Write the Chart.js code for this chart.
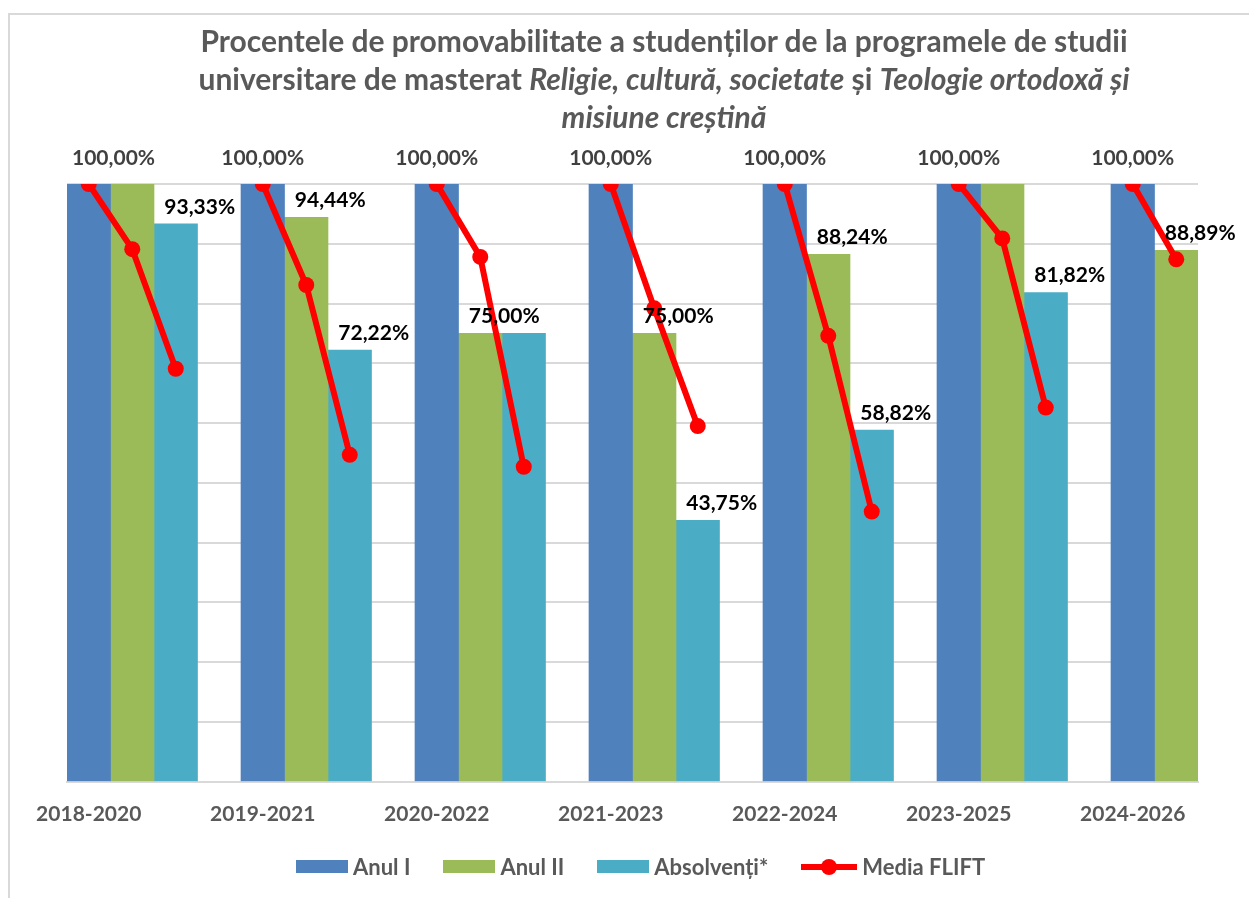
<!DOCTYPE html>
<html>
<head>
<meta charset="utf-8">
<script src="https://cdn.jsdelivr.net/npm/chart.js@4.4.0/dist/chart.umd.min.js"></script>
<style>
  body { margin: 0; background: #fff; }
  #wrap { position: relative; width: 1249px; height: 898px; overflow: hidden; font-family: Lato, "Open Sans", sans-serif; }
  #frame { position: absolute; left: 8px; top: 13px; width: 1300px; height: 900px; border-left: 2px solid #d9d9d9; border-top: 2px solid #d9d9d9; }
  #title { position: absolute; left: 114px; width: 1100px; top: 21px; text-align: center; font-weight: bold; font-size: 30px; line-height: 38px; color: #595959; }
  #legend { position: absolute; left: 296px; top: 853px; display: flex; align-items: center; font-weight: bold; font-size: 22px; color: #595959; }
  .item { display: flex; align-items: center; margin-right: 33px; }
  .box { width: 52px; height: 13px; margin-right: 5px; }
  .lineMark { position: relative; width: 56px; height: 16px; margin-right: 5px; }
  .lineMark .l { position: absolute; left: 0; right: 0; top: 5px; height: 6px; background: #ff0000; }
  .lineMark .d { position: absolute; left: 20px; top: 0; width: 16px; height: 16px; border-radius: 50%; background: #ff0000; }
  canvas { position: absolute; left: 0; top: 0; }
</style>
</head>
<body>
<div id="wrap">
  <div id="frame"></div>
  <canvas id="chart" width="1249" height="898"></canvas>
  <div id="title">Procentele de promovabilitate a studenților de la programele de studii<br>universitare de masterat <i>Religie, cultură, societate</i> și <i>Teologie ortodoxă și</i><br><i>misiune creștină</i></div>
  <div id="legend">
    <div class="item"><div class="box" style="background:#4f81bd"></div>Anul I</div>
    <div class="item"><div class="box" style="background:#9bbb59"></div>Anul II</div>
    <div class="item"><div class="box" style="background:#4bacc6"></div>Absolvenți*</div>
    <div class="item"><div class="lineMark"><div class="l"></div><div class="d"></div></div>Media FLIFT</div>
  </div>
</div>
<script>
const categories = ["2018-2020", "2019-2021", "2020-2022", "2021-2023", "2022-2024", "2023-2025", "2024-2026"];
const anulI = [100, 100, 100, 100, 100, 100, 100];
const anulII = [100, 94.44, 75, 75, 88.24, 100, 88.89];
const absolventi = [93.33, 72.22, 75, 43.75, 58.82, 81.82, null];
// Media FLIFT, one value per bar of each group
const mediaAnulI = [100, 100, 100, 100, 100, 100, 100];
const mediaAnulII = [89.1, 83.1, 87.8, 79.2, 74.6, 90.9, 87.4];
const mediaAbsolventi = [69.1, 54.7, 52.7, 59.5, 45.2, 62.6, null];

// each category takes one unit on the x axis, the three bars sit at -0.25, 0, +0.25
const slot = [-0.25, 0, 0.25];

function barPoints(values, s) {
    const pts = [];
    values.forEach((v, i) => { if (v !== null) pts.push({ x: i + slot[s], y: v }); });
    return pts;
}

const linePoints = [];
categories.forEach((c, i) => {
    [mediaAnulI, mediaAnulII, mediaAbsolventi].forEach((arr, s) => {
        if (arr[i] !== null) linePoints.push({ x: i + slot[s], y: arr[i] });
    });
    linePoints.push({ x: i + 0.5, y: null });
});

const fmt = v => v.toFixed(2).replace(".", ",") + "%";

const labelPlugin = {
    id: "barLabels",
    afterDatasetsDraw(chart) {
        const ctx = chart.ctx;
        const area = chart.chartArea;
        const series = [anulI, anulII, absolventi];
        ctx.save();
        ctx.font = "bold 21px Lato";
        ctx.textAlign = "center";
        ctx.textBaseline = "middle";
        chart.data.datasets.forEach((ds, di) => {
            if (ds.type === "line") return;
            const s = ds.seriesIndex;
            const meta = chart.getDatasetMeta(di);
            meta.data.forEach((bar, j) => {
                const i = Math.round(ds.data[j].x - slot[s]);
                const v = series[s][i];
                if (s > 0 && series[s - 1][i] === v) return;
                const txt = fmt(v);
                const half = ctx.measureText(txt).width / 2;
                if (s === 0) {
                    // keep label inside the plot area on the left
                    const x = Math.max(bar.x, area.left + 5 + half);
                    ctx.fillStyle = "#404040";
                    ctx.fillText(txt, x, bar.y - 26);
                } else {
                    ctx.fillStyle = "#000000";
                    ctx.fillText(txt, bar.x + 24, bar.y - 17);
                }
            });
        });
        ctx.restore();
    }
};

new Chart(document.getElementById("chart").getContext("2d"), {
    type: "bar",
    data: {
        datasets: [
            {
                type: "line",
                label: "Media FLIFT",
                data: linePoints,
                borderColor: "#ff0000",
                backgroundColor: "#ff0000",
                borderWidth: 6,
                pointRadius: 8,
                pointBackgroundColor: "#ff0000",
                pointBorderWidth: 0,
                spanGaps: false,
                order: 0
            },
            { label: "Anul I", seriesIndex: 0, data: barPoints(anulI, 0), backgroundColor: "#4f81bd", order: 1 },
            { label: "Anul II", seriesIndex: 1, data: barPoints(anulII, 1), backgroundColor: "#9bbb59", order: 1 },
            { label: "Absolvenți*", seriesIndex: 2, data: barPoints(absolventi, 2), backgroundColor: "#4bacc6", order: 1 }
        ]
    },
    options: {
        responsive: false,
        animation: false,
        grouped: false,
        categoryPercentage: 1,
        barPercentage: 1,
        layout: { autoPadding: false, padding: { left: 67, right: 51, top: 184, bottom: 51 } },
        plugins: { legend: { display: false }, title: { display: false }, tooltip: { enabled: false } },
        scales: {
            x: {
                type: "linear",
                offset: false,
                min: -0.375,
                max: 6.125,
                grid: { display: false, drawTicks: false, offset: false },
                border: { display: true, color: "#d9d9d9", width: 2 },
                afterBuildTicks: scale => { scale.ticks = categories.map((c, i) => ({ value: i + slot[0] })); },
                ticks: {
                    autoSkip: false,
                    maxRotation: 0,
                    padding: 20,
                    color: "#595959",
                    font: { family: "Lato", weight: "bold", size: 21 },
                    callback: (value, index) => categories[index]
                }
            },
            y: {
                min: 0,
                max: 100,
                ticks: { display: false, stepSize: 10 },
                grid: { color: "#d9d9d9", lineWidth: 2, drawTicks: false },
                border: { display: false }
            }
        }
    },
    plugins: [labelPlugin]
});
</script>
</body>
</html>
